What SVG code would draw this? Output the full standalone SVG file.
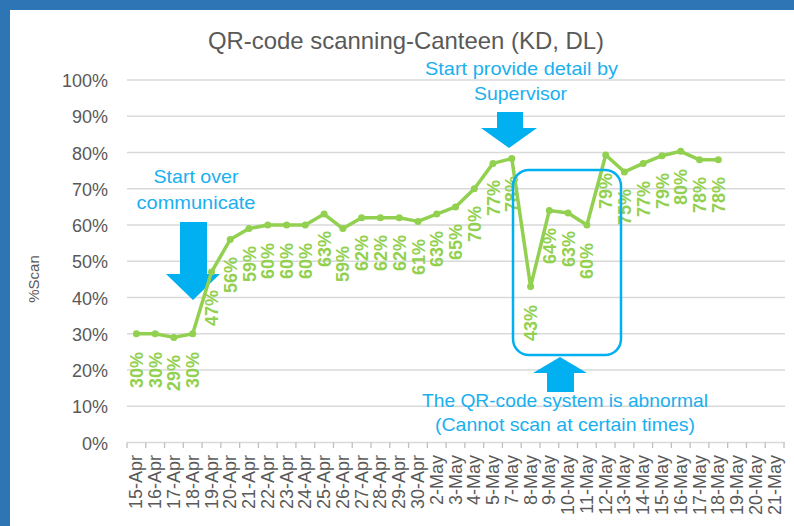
<svg xmlns="http://www.w3.org/2000/svg" width="794" height="526" viewBox="0 0 794 526">
<style>
.frame{fill:#2E75B6}
.grid{stroke:#D9D9D9;stroke-width:1.5}
.tick{stroke:#BFBFBF;stroke-width:1.3}
.ylab{font-family:"Liberation Sans",Arial,sans-serif;font-size:18px;fill:#595959;text-anchor:end}
.xlab{font-family:"Liberation Sans",Arial,sans-serif;font-size:18px;fill:#595959;text-anchor:end}
.title{font-family:"Liberation Sans",Arial,sans-serif;font-size:24px;fill:#595959;text-anchor:middle}
.ann{font-family:"Liberation Sans",Arial,sans-serif;font-size:19px;fill:#1AAFEF;text-anchor:middle}
.arrow{fill:#00B0F0}
.series{fill:none;stroke:#92D050;stroke-width:3.5;stroke-linejoin:round}
.mk{fill:#92D050}
.dl{font-family:"Liberation Sans",Arial,sans-serif;font-size:18px;font-weight:bold;fill:#92D050;text-anchor:end}
.box{fill:none;stroke:#00B0F0;stroke-width:2.5}
</style>
<rect width="794" height="526" fill="#FFFFFF"/>
<g id="frame">
<rect class="frame" x="0" y="0" width="794" height="10"/>
<rect class="frame" x="0" y="0" width="10" height="526"/>
</g>
<g id="title">
<text class="title" x="406" y="49" textLength="396" lengthAdjust="spacingAndGlyphs">QR-code scanning-Canteen (KD, DL)</text>
</g>
<g id="y-axis">
<g class="grid">
<line x1="127" y1="80" x2="785" y2="80"/>
<line x1="127" y1="116.25" x2="785" y2="116.25"/>
<line x1="127" y1="152.5" x2="785" y2="152.5"/>
<line x1="127" y1="188.75" x2="785" y2="188.75"/>
<line x1="127" y1="225" x2="785" y2="225"/>
<line x1="127" y1="261.25" x2="785" y2="261.25"/>
<line x1="127" y1="297.5" x2="785" y2="297.5"/>
<line x1="127" y1="333.75" x2="785" y2="333.75"/>
<line x1="127" y1="370" x2="785" y2="370"/>
<line x1="127" y1="406.25" x2="785" y2="406.25"/>
<line x1="127" y1="442.5" x2="785" y2="442.5"/>
</g>
<text class="ylab" x="108" y="87">100%</text>
<text class="ylab" x="108" y="123.25">90%</text>
<text class="ylab" x="108" y="159.5">80%</text>
<text class="ylab" x="108" y="195.75">70%</text>
<text class="ylab" x="108" y="232">60%</text>
<text class="ylab" x="108" y="268.25">50%</text>
<text class="ylab" x="108" y="304.5">40%</text>
<text class="ylab" x="108" y="340.75">30%</text>
<text class="ylab" x="108" y="377">20%</text>
<text class="ylab" x="108" y="413.25">10%</text>
<text class="ylab" x="108" y="449.5">0%</text>
<text font-family="Liberation Sans, Arial, sans-serif" font-size="15" fill="#595959" text-anchor="middle" transform="translate(39,279) rotate(-90)">%Scan</text>
</g>
<g id="x-axis">
<path class="tick" d="M127,442.5V448M145.77,442.5V448M164.54,442.5V448M183.31,442.5V448M202.08,442.5V448M220.86,442.5V448M239.63,442.5V448M258.4,442.5V448M277.17,442.5V448M295.94,442.5V448M314.71,442.5V448M333.48,442.5V448M352.25,442.5V448M371.02,442.5V448M389.79,442.5V448M408.57,442.5V448M427.34,442.5V448M446.11,442.5V448M464.88,442.5V448M483.65,442.5V448M502.42,442.5V448M521.19,442.5V448M539.96,442.5V448M558.73,442.5V448M577.5,442.5V448M596.27,442.5V448M615.05,442.5V448M633.82,442.5V448M652.59,442.5V448M671.36,442.5V448M690.13,442.5V448M708.9,442.5V448M727.67,442.5V448M746.44,442.5V448M765.21,442.5V448M784,442.5V448"/>
<text class="xlab" transform="translate(142.4,455) rotate(-90)">15-Apr</text>
<text class="xlab" transform="translate(161.2,455) rotate(-90)">16-Apr</text>
<text class="xlab" transform="translate(179.9,455) rotate(-90)">17-Apr</text>
<text class="xlab" transform="translate(198.7,455) rotate(-90)">18-Apr</text>
<text class="xlab" transform="translate(217.5,455) rotate(-90)">19-Apr</text>
<text class="xlab" transform="translate(236.2,455) rotate(-90)">20-Apr</text>
<text class="xlab" transform="translate(255,455) rotate(-90)">21-Apr</text>
<text class="xlab" transform="translate(273.8,455) rotate(-90)">22-Apr</text>
<text class="xlab" transform="translate(292.6,455) rotate(-90)">23-Apr</text>
<text class="xlab" transform="translate(311.3,455) rotate(-90)">24-Apr</text>
<text class="xlab" transform="translate(330.1,455) rotate(-90)">25-Apr</text>
<text class="xlab" transform="translate(348.9,455) rotate(-90)">26-Apr</text>
<text class="xlab" transform="translate(367.6,455) rotate(-90)">27-Apr</text>
<text class="xlab" transform="translate(386.4,455) rotate(-90)">28-Apr</text>
<text class="xlab" transform="translate(405.2,455) rotate(-90)">29-Apr</text>
<text class="xlab" transform="translate(424,455) rotate(-90)">30-Apr</text>
<text class="xlab" transform="translate(442.7,455) rotate(-90)">2-May</text>
<text class="xlab" transform="translate(461.5,455) rotate(-90)">3-May</text>
<text class="xlab" transform="translate(480.3,455) rotate(-90)">4-May</text>
<text class="xlab" transform="translate(499,455) rotate(-90)">5-May</text>
<text class="xlab" transform="translate(517.8,455) rotate(-90)">7-May</text>
<text class="xlab" transform="translate(536.6,455) rotate(-90)">8-May</text>
<text class="xlab" transform="translate(555.3,455) rotate(-90)">9-May</text>
<text class="xlab" transform="translate(574.1,455) rotate(-90)">10-May</text>
<text class="xlab" transform="translate(592.9,455) rotate(-90)">11-May</text>
<text class="xlab" transform="translate(611.7,455) rotate(-90)">12-May</text>
<text class="xlab" transform="translate(630.4,455) rotate(-90)">13-May</text>
<text class="xlab" transform="translate(649.2,455) rotate(-90)">14-May</text>
<text class="xlab" transform="translate(668,455) rotate(-90)">15-May</text>
<text class="xlab" transform="translate(686.7,455) rotate(-90)">16-May</text>
<text class="xlab" transform="translate(705.5,455) rotate(-90)">17-May</text>
<text class="xlab" transform="translate(724.3,455) rotate(-90)">18-May</text>
<text class="xlab" transform="translate(743,455) rotate(-90)">19-May</text>
<text class="xlab" transform="translate(761.8,455) rotate(-90)">20-May</text>
<text class="xlab" transform="translate(780.6,455) rotate(-90)">21-May</text>
</g>
<g id="arrow-start-over">
<polygon class="arrow" points="180,222 207,222 207,274 220,274 193,300 166,274 180,274"/>
</g>
<g id="arrow-supervisor">
<polygon class="arrow" points="497,112 523,112 523,128 537,128 509,148 481,128 497,128"/>
</g>
<g id="arrow-abnormal">
<polygon class="arrow" points="560,357 587,373 574,373 574,392 547,392 547,373 533,373"/>
</g>
<g id="series">
<polyline class="series" points="136.4,333.8 155.2,333.8 173.9,337.4 192.7,333.8 211.5,272.1 230.2,239.5 249,228.6 267.8,225 286.6,225 305.3,225 324.1,214.1 342.9,228.6 361.6,217.8 380.4,217.8 399.2,217.8 418,221.4 436.7,214.1 455.5,206.9 474.3,188.8 493,163.4 511.8,158.5 530.6,286.6 549.3,210.5 568.1,213 586.9,225 605.7,155 624.4,171.9 643.2,163.4 662,155.7 680.7,151.3 699.5,159.8 718.3,159.8"/>
<g class="mk">
<circle cx="136.4" cy="333.8" r="3.5"/><circle cx="155.2" cy="333.8" r="3.5"/><circle cx="173.9" cy="337.4" r="3.5"/><circle cx="192.7" cy="333.8" r="3.5"/><circle cx="211.5" cy="272.1" r="3.5"/><circle cx="230.2" cy="239.5" r="3.5"/><circle cx="249" cy="228.6" r="3.5"/><circle cx="267.8" cy="225" r="3.5"/><circle cx="286.6" cy="225" r="3.5"/><circle cx="305.3" cy="225" r="3.5"/><circle cx="324.1" cy="214.1" r="3.5"/><circle cx="342.9" cy="228.6" r="3.5"/><circle cx="361.6" cy="217.8" r="3.5"/><circle cx="380.4" cy="217.8" r="3.5"/><circle cx="399.2" cy="217.8" r="3.5"/><circle cx="418" cy="221.4" r="3.5"/><circle cx="436.7" cy="214.1" r="3.5"/><circle cx="455.5" cy="206.9" r="3.5"/><circle cx="474.3" cy="188.8" r="3.5"/><circle cx="493" cy="163.4" r="3.5"/><circle cx="511.8" cy="158.5" r="3.5"/><circle cx="530.6" cy="286.6" r="3.5"/><circle cx="549.3" cy="210.5" r="3.5"/><circle cx="568.1" cy="213" r="3.5"/><circle cx="586.9" cy="225" r="3.5"/><circle cx="605.7" cy="155" r="3.5"/><circle cx="624.4" cy="171.9" r="3.5"/><circle cx="643.2" cy="163.4" r="3.5"/><circle cx="662" cy="155.7" r="3.5"/><circle cx="680.7" cy="151.3" r="3.5"/><circle cx="699.5" cy="159.8" r="3.5"/><circle cx="718.3" cy="159.8" r="3.5"/>
</g>
<g id="data-labels">
<text class="dl" transform="translate(142.9,352) rotate(-90)">30%</text>
<text class="dl" transform="translate(161.7,352) rotate(-90)">30%</text>
<text class="dl" transform="translate(180.4,355) rotate(-90)">29%</text>
<text class="dl" transform="translate(199.2,352) rotate(-90)">30%</text>
<text class="dl" transform="translate(218,290) rotate(-90)">47%</text>
<text class="dl" transform="translate(236.7,257) rotate(-90)">56%</text>
<text class="dl" transform="translate(255.5,246) rotate(-90)">59%</text>
<text class="dl" transform="translate(274.3,243) rotate(-90)">60%</text>
<text class="dl" transform="translate(293.1,243) rotate(-90)">60%</text>
<text class="dl" transform="translate(311.8,243) rotate(-90)">60%</text>
<text class="dl" transform="translate(330.6,231) rotate(-90)">63%</text>
<text class="dl" transform="translate(349.4,246) rotate(-90)">59%</text>
<text class="dl" transform="translate(368.1,235) rotate(-90)">62%</text>
<text class="dl" transform="translate(386.9,235) rotate(-90)">62%</text>
<text class="dl" transform="translate(405.7,235) rotate(-90)">62%</text>
<text class="dl" transform="translate(424.5,239) rotate(-90)">61%</text>
<text class="dl" transform="translate(443.2,231) rotate(-90)">63%</text>
<text class="dl" transform="translate(462,224) rotate(-90)">65%</text>
<text class="dl" transform="translate(480.8,206) rotate(-90)">70%</text>
<text class="dl" transform="translate(499.5,180) rotate(-90)">77%</text>
<text class="dl" transform="translate(518.3,176) rotate(-90)">78%</text>
<text class="dl" transform="translate(537.1,305) rotate(-90)">43%</text>
<text class="dl" transform="translate(555.8,228) rotate(-90)">64%</text>
<text class="dl" transform="translate(574.6,231) rotate(-90)">63%</text>
<text class="dl" transform="translate(593.4,243) rotate(-90)">60%</text>
<text class="dl" transform="translate(612.2,173) rotate(-90)">79%</text>
<text class="dl" transform="translate(630.9,189) rotate(-90)">75%</text>
<text class="dl" transform="translate(649.7,181) rotate(-90)">77%</text>
<text class="dl" transform="translate(668.5,173) rotate(-90)">79%</text>
<text class="dl" transform="translate(687.2,169) rotate(-90)">80%</text>
<text class="dl" transform="translate(706,177) rotate(-90)">78%</text>
<text class="dl" transform="translate(724.8,177) rotate(-90)">78%</text>
</g>
</g>
<g id="abnormal-box">
<rect class="box" x="513" y="170" width="108" height="185" rx="16"/>
</g>
<g id="note-start-over">
<text class="ann" x="196" y="183" textLength="85" lengthAdjust="spacingAndGlyphs">Start over</text>
<text class="ann" x="196" y="209" textLength="119" lengthAdjust="spacingAndGlyphs">communicate</text>
</g>
<g id="note-supervisor">
<text class="ann" x="521.5" y="75" textLength="193" lengthAdjust="spacingAndGlyphs">Start provide detail by</text>
<text class="ann" x="520.5" y="100" textLength="93" lengthAdjust="spacingAndGlyphs">Supervisor</text>
</g>
<g id="note-abnormal">
<text class="ann" x="565" y="407" textLength="286" lengthAdjust="spacingAndGlyphs">The QR-code system is abnormal</text>
<text class="ann" x="565" y="431" textLength="260" lengthAdjust="spacingAndGlyphs">(Cannot scan at certain times)</text>
</g>
</svg>
